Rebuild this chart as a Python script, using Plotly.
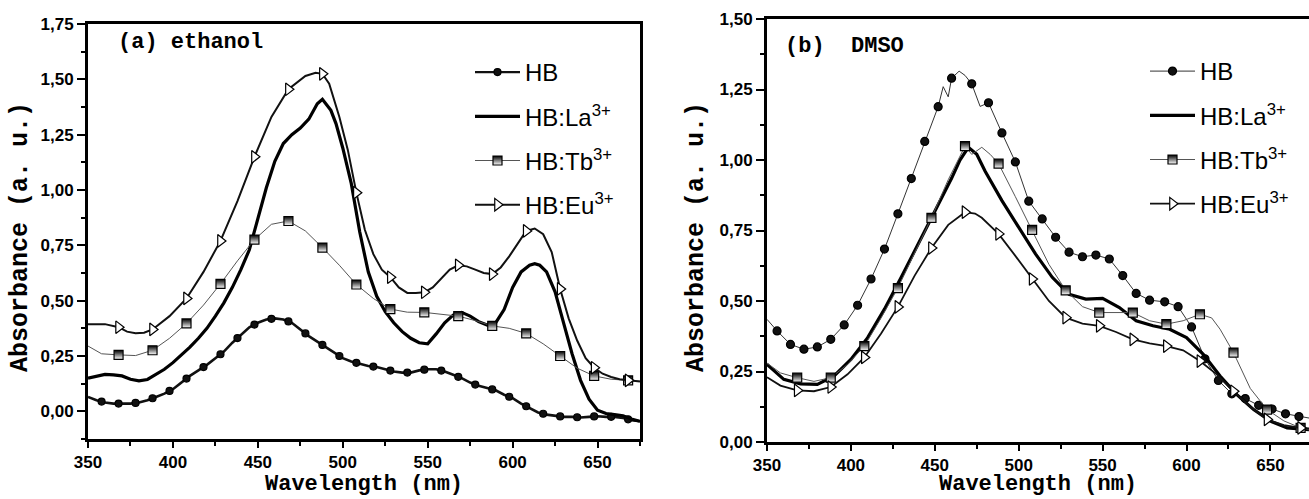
import plotly.graph_objects as go
import numpy as np

# ---------------- (a) ethanol ----------------
a_hb_wl = [350, 355, 360, 365, 370, 375, 380, 385, 390, 395, 400, 405, 410, 415, 420, 425, 430, 435,
           440, 445, 450, 455, 460, 465, 470, 475, 480, 485, 490, 495, 500, 505, 510, 515, 520, 525,
           530, 535, 540, 545, 550, 555, 560, 565, 570, 575, 580, 585, 590, 595, 600, 605, 610, 615,
           620, 625, 630, 635, 640, 645, 650, 655, 660, 665, 670, 675]
a_hb_abs = [0.065, 0.05, 0.04, 0.035, 0.035, 0.035, 0.04, 0.05, 0.065, 0.08, 0.10, 0.13, 0.16, 0.185,
            0.21, 0.24, 0.27, 0.31, 0.345, 0.38, 0.40, 0.415, 0.42, 0.415, 0.40, 0.37, 0.34, 0.315,
            0.29, 0.265, 0.24, 0.225, 0.215, 0.205, 0.20, 0.19, 0.18, 0.175, 0.175, 0.185, 0.19, 0.19,
            0.18, 0.165, 0.15, 0.13, 0.115, 0.105, 0.095, 0.075, 0.06, 0.035, 0.015, -0.005, -0.015,
            -0.02, -0.025, -0.025, -0.028, -0.025, -0.022, -0.025, -0.025, -0.03, -0.04, -0.045]
a_hb_mk = [358, 368, 378, 388, 398, 408, 418, 428, 438, 448, 458, 468, 478, 488, 498, 508, 518, 528,
           538, 548, 558, 568, 578, 588, 598, 608, 618, 628, 638, 648, 658, 668]

a_la_wl = [350, 355, 360, 365, 370, 375, 380, 385, 390, 395, 400, 405, 410, 415, 420, 425, 430, 435,
           440, 445, 450, 455, 460, 465, 470, 475, 480, 485, 488, 490, 493, 496, 500, 505, 510, 515,
           520, 525, 530, 535, 540, 545, 550, 555, 560, 565, 570, 575, 580, 585, 590, 595, 600, 605,
           610, 613, 616, 620, 625, 630, 635, 640, 645, 650, 655, 660, 665, 670, 675]
a_la_abs = [0.15, 0.16, 0.167, 0.165, 0.16, 0.145, 0.138, 0.144, 0.165, 0.19, 0.22, 0.255, 0.29, 0.33,
            0.375, 0.43, 0.49, 0.56, 0.64, 0.73, 0.87, 1.01, 1.13, 1.21, 1.25, 1.28, 1.32, 1.39, 1.41,
            1.39, 1.36, 1.30, 1.19, 1.03, 0.81, 0.63, 0.52, 0.45, 0.40, 0.36, 0.33, 0.31, 0.305, 0.35,
            0.40, 0.435, 0.447, 0.43, 0.405, 0.39, 0.40, 0.46, 0.56, 0.63, 0.66, 0.667, 0.66, 0.63,
            0.54, 0.40, 0.26, 0.14, 0.055, 0.005, -0.01, -0.015, -0.02, -0.035, -0.045]

a_tb_wl = [350, 358, 368, 378, 388, 398, 408, 418, 428, 438, 448, 458, 468, 478, 488, 498, 508, 518,
           528, 538, 548, 558, 568, 578, 588, 598, 608, 618, 628, 638, 648, 658, 668, 675]
a_tb_abs = [0.295, 0.26, 0.255, 0.252, 0.276, 0.33, 0.397, 0.48, 0.576, 0.68, 0.776, 0.845, 0.86,
            0.815, 0.74, 0.66, 0.573, 0.51, 0.462, 0.448, 0.447, 0.44, 0.43, 0.41, 0.386, 0.375,
            0.352, 0.305, 0.25, 0.195, 0.16, 0.145, 0.14, 0.136]
a_tb_mk = [368, 388, 408, 428, 448, 468, 488, 508, 528, 548, 568, 588, 608, 628, 648, 668]

a_eu_wl = [350, 360, 368, 373, 378, 383, 388, 398, 408, 418, 428, 438, 448, 458, 468, 478, 484, 488,
           492, 498, 503, 508, 513, 518, 523, 528, 533, 538, 543, 548, 553, 558, 563, 568, 573, 578,
           583, 588, 593, 598, 603, 608, 613, 618, 623, 628, 633, 638, 643, 648, 653, 658, 663, 668, 675]
a_eu_abs = [0.394, 0.394, 0.38, 0.36, 0.353, 0.355, 0.37, 0.43, 0.51, 0.63, 0.77, 0.95, 1.15, 1.33,
            1.455, 1.515, 1.53, 1.525, 1.48, 1.33, 1.18, 0.988, 0.82, 0.71, 0.64, 0.606, 0.56, 0.535,
            0.535, 0.538, 0.56, 0.60, 0.64, 0.66, 0.655, 0.64, 0.625, 0.62, 0.65, 0.70, 0.76, 0.815,
            0.826, 0.80, 0.72, 0.553, 0.42, 0.32, 0.24, 0.197, 0.17, 0.155, 0.145, 0.14, 0.135]
a_eu_mk = [368, 388, 408, 428, 448, 468, 488, 508, 528, 548, 568, 588, 608, 628, 648, 668]

# ---------------- (b) DMSO ----------------
b_hb_wl = [350, 356, 364, 372, 380, 388, 396, 404, 412, 420, 428, 436, 444, 452, 455, 458, 460, 464.5,
           468, 472, 477, 482, 490, 498, 506, 514, 522, 530, 538, 546, 554, 562, 570, 578, 587, 595,
           603, 611, 619, 627, 635, 643, 651, 659, 667, 673]
b_hb_abs = [0.435, 0.394, 0.346, 0.329, 0.337, 0.364, 0.415, 0.485, 0.578, 0.684, 0.809, 0.934, 1.066,
            1.189, 1.26, 1.224, 1.29, 1.315, 1.30, 1.27, 1.19, 1.203, 1.096, 0.993, 0.854, 0.791,
            0.726, 0.673, 0.657, 0.663, 0.649, 0.59, 0.527, 0.503, 0.497, 0.48, 0.408, 0.295, 0.218,
            0.171, 0.154, 0.13, 0.117, 0.10, 0.09, 0.085]
b_hb_mk = [356, 364, 372, 380, 388, 396, 404, 412, 420, 428, 436, 444, 452, 460, 472, 482, 490, 498,
           506, 514, 522, 530, 538, 546, 554, 562, 570, 578, 587, 595, 603, 611, 619, 627, 635, 643,
           651, 659, 667]

b_la_wl = [350, 360, 370, 380, 390, 400, 410, 420, 430, 440, 450, 460, 465, 470, 475, 480, 490, 500,
           510, 520, 530, 540, 550, 560, 570, 580, 590, 600, 610, 620, 630, 640, 650, 660, 673]
b_la_abs = [0.275, 0.222, 0.206, 0.204, 0.234, 0.293, 0.37, 0.471, 0.584, 0.70, 0.82, 0.935, 1.0,
            1.045, 1.02, 0.96, 0.856, 0.762, 0.667, 0.584, 0.524, 0.507, 0.509, 0.477, 0.43, 0.412,
            0.40, 0.37, 0.311, 0.234, 0.168, 0.115, 0.074, 0.05, 0.044]

b_tb_wl = [350, 358, 368, 378, 388, 398, 408, 418, 428, 438, 448, 458, 464, 468, 472, 478, 483, 488,
           498, 508, 518, 528, 538, 548, 558, 568, 578, 588, 598, 608, 615, 620, 628, 638, 648, 658,
           668, 673]
b_tb_abs = [0.28, 0.245, 0.228, 0.215, 0.228, 0.275, 0.34, 0.44, 0.546, 0.67, 0.795, 0.93, 1.0, 1.049,
            1.02, 1.045, 1.02, 0.987, 0.87, 0.752, 0.63, 0.538, 0.48, 0.459, 0.459, 0.459, 0.43,
            0.418, 0.43, 0.453, 0.44, 0.40, 0.317, 0.19, 0.115, 0.075, 0.05, 0.045]
b_tb_mk = [368, 388, 408, 428, 448, 468, 488, 508, 528, 548, 568, 588, 608, 628, 648, 668]

b_eu_wl = [350, 358, 368, 378, 388, 398, 408, 418, 428, 438, 448, 458, 468, 474, 478, 488, 498, 508,
           518, 528, 538, 548, 558, 568, 578, 588, 598, 608, 618, 628, 638, 648, 658, 668, 673]
b_eu_abs = [0.23, 0.2, 0.183, 0.18, 0.195, 0.24, 0.30, 0.385, 0.479, 0.59, 0.688, 0.77, 0.815, 0.81,
            0.795, 0.738, 0.66, 0.578, 0.50, 0.441, 0.42, 0.412, 0.39, 0.364, 0.35, 0.34, 0.325,
            0.287, 0.24, 0.18, 0.125, 0.08, 0.06, 0.05, 0.048]
b_eu_mk = [368, 388, 408, 428, 448, 468, 488, 508, 528, 548, 568, 588, 608, 628, 648, 668]

labels = ["HB", "HB:La<sup>3+</sup>", "HB:Tb<sup>3+</sup>", "HB:Eu<sup>3+</sup>"]

W, H = 1309, 499
MONO = "Liberation Mono, Courier New, monospace"
SANS = "Liberation Sans, Arial, sans-serif"

fig = go.Figure()

styles_a = [
    dict(lw=2.6, color="#111", sym="circle", ms=7, mfill="#111", grad=None),
    dict(lw=3.2, color="#000", sym=None),
    dict(lw=1.0, color="#555", sym="square", ms=9, mfill="#000", grad="white"),
    dict(lw=2.0, color="#111", sym="triangle-right", ms=11, mfill="white", grad=None),
]
styles_b = [
    dict(lw=1.0, color="#333", sym="circle", ms=8, mfill="#111", grad=None),
    dict(lw=3.2, color="#000", sym=None),
    dict(lw=1.0, color="#555", sym="square", ms=9, mfill="#000", grad="white"),
    dict(lw=1.8, color="#111", sym="triangle-right", ms=11, mfill="white", grad=None),
]

series_a = [(a_hb_wl, a_hb_abs, a_hb_mk), (a_la_wl, a_la_abs, None),
            (a_tb_wl, a_tb_abs, a_tb_mk), (a_eu_wl, a_eu_abs, a_eu_mk)]
series_b = [(b_hb_wl, b_hb_abs, b_hb_mk), (b_la_wl, b_la_abs, None),
            (b_tb_wl, b_tb_abs, b_tb_mk), (b_eu_wl, b_eu_abs, b_eu_mk)]


def add_panel(series, styles, xa, ya, legend):
    for i, ((wl, ab, mk), st, lab) in enumerate(zip(series, styles, labels)):
        fig.add_trace(go.Scatter(x=wl, y=ab, mode="lines", xaxis=xa, yaxis=ya,
                                 line=dict(color=st["color"], width=st["lw"]),
                                 showlegend=False, hoverinfo="skip"))
        marker = None
        if mk is not None:
            my = np.interp(mk, wl, ab)
            marker = dict(symbol=st["sym"], size=st["ms"], color=st["mfill"],
                          line=dict(color="#000", width=1.2))
            if st["grad"]:
                marker["gradient"] = dict(type="vertical", color=st["grad"])
            fig.add_trace(go.Scatter(x=mk, y=my, mode="markers", xaxis=xa, yaxis=ya,
                                     marker=marker, showlegend=False, hoverinfo="skip",
                                     cliponaxis=True))
        fig.add_trace(go.Scatter(x=[None], y=[None], xaxis=xa, yaxis=ya,
                                 mode="lines+markers" if marker else "lines",
                                 line=dict(color=st["color"], width=min(st["lw"], 2.4) if i != 1 else 3.2),
                                 marker=marker, name=lab, legend=legend,
                                 legendgroup=legend + str(i)))


add_panel(series_a, styles_a, "x", "y", "legend")
add_panel(series_b, styles_b, "x2", "y2", "legend2")

common_x = dict(showgrid=False, zeroline=False, showline=True, linewidth=3, linecolor="black",
                ticks="outside", ticklen=6, tickwidth=2, tickcolor="black", tick0=350, dtick=50,
                minor=dict(ticks="outside", ticklen=4, tickwidth=2, tickcolor="black", dtick=25),
                tickfont=dict(family=SANS, size=17, color="black", weight="bold"),
                ticklabelstandoff=0, automargin=False)
common_y = dict(showgrid=False, zeroline=False, showline=True, linewidth=3, linecolor="black",
                ticks="outside", ticklen=8, tickwidth=2, tickcolor="black", tick0=0, dtick=0.25,
                tickformat=".2f",
                minor=dict(ticks="outside", ticklen=4, tickwidth=2, tickcolor="black", dtick=0.125),
                tickfont=dict(family=SANS, size=17, color="black", weight="bold"),
                ticklabelstandoff=0, automargin=False)

fig.update_layout(
    width=W, height=H, margin=dict(l=0, r=0, t=0, b=0, autoexpand=False),
    paper_bgcolor="white", plot_bgcolor="white", separators=",.",
    xaxis=dict(common_x, domain=[88 / W, 640 / W], range=[350, 675], anchor="y", mirror=True),
    yaxis=dict(common_y, domain=[1 - 439 / H, 1 - 24 / H], range=[-0.125, 1.75], anchor="x", mirror=True),
    xaxis2=dict(common_x, domain=[767 / W, 1.0], range=[350, 673], anchor="y2", mirror=True),
    yaxis2=dict(common_y, domain=[1 - 442 / H, 1 - 19 / H], range=[0, 1.5], anchor="x2", mirror=False),
    legend=dict(x=470 / W, y=1 - 50 / H, xanchor="left", yanchor="top", bgcolor="rgba(0,0,0,0)",
                font=dict(family=SANS, size=24, color="black"), itemwidth=45,
                traceorder="grouped", tracegroupgap=10),
    legend2=dict(x=1145 / W, y=1 - 49 / H, xanchor="left", yanchor="top", bgcolor="rgba(0,0,0,0)",
                 font=dict(family=SANS, size=24, color="black"), itemwidth=45,
                 traceorder="grouped", tracegroupgap=10),
)

ann = []
ann.append(dict(text="(a) ethanol", x=116 / W, y=1 - 43 / H, xanchor="left", yanchor="middle",
                font=dict(family=MONO, size=22, color="black", weight="bold")))
ann.append(dict(text="(b)  DMSO", x=783 / W, y=1 - 47 / H, xanchor="left", yanchor="middle",
                font=dict(family=MONO, size=22, color="black", weight="bold")))
for xc in (21, 697):
    ann.append(dict(text="Absorbance (a. u.)", x=xc / W, y=1 - 237 / H, textangle=-90,
                    xanchor="center", yanchor="middle",
                    font=dict(family=MONO, size=25, color="black", weight="bold")))
ann.append(dict(text="Wavelength (nm)", x=364 / W, y=0.0, xanchor="center", yanchor="bottom",
                font=dict(family=MONO, size=22, color="black", weight="bold")))
ann.append(dict(text="Wavelength (nm)", x=1038 / W, y=0.0, xanchor="center", yanchor="bottom",
                font=dict(family=MONO, size=22, color="black", weight="bold")))
for a in ann:
    a.update(xref="paper", yref="paper", showarrow=False)
fig.update_layout(annotations=ann)

fig.write_html("out.html")
